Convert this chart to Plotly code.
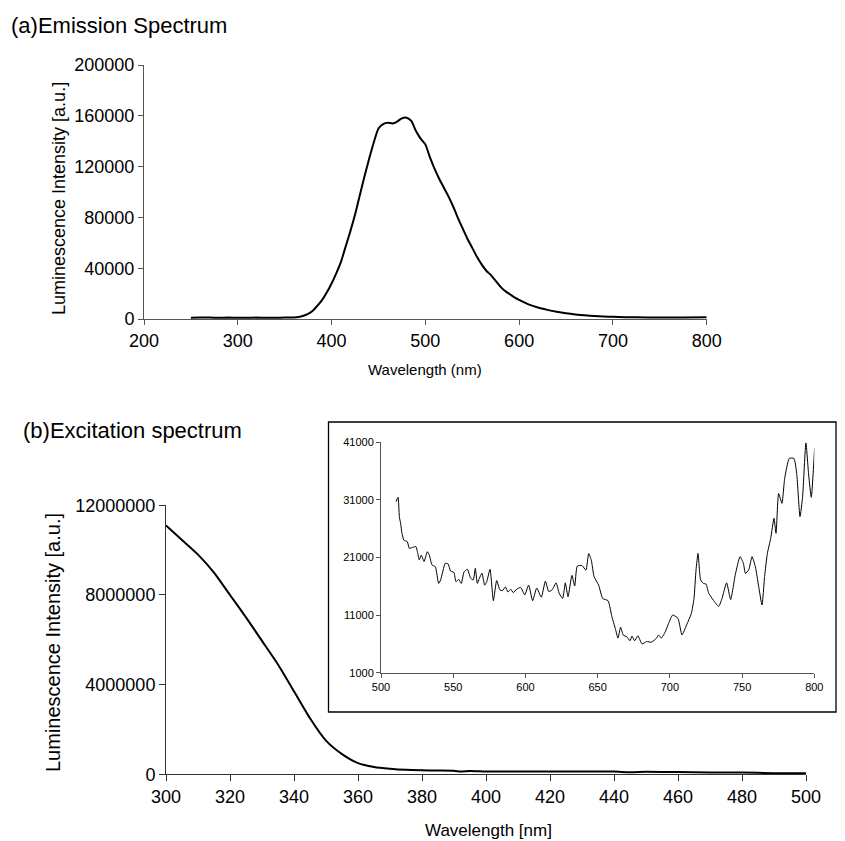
import plotly.graph_objects as go

# ---------------- data ----------------
em_wl = [250, 260, 270, 280, 290, 300, 310, 320, 330, 340, 350, 360, 365, 370, 375, 380,
         385, 390, 395, 400, 405, 410, 415, 420, 425, 430, 435, 440, 445, 450, 455, 460,
         465, 470, 475, 480, 485, 490, 495, 500, 505, 510, 515, 520, 525, 530, 535, 540,
         545, 550, 555, 560, 565, 570, 575, 580, 585, 590, 595, 600, 610, 620, 630, 640,
         650, 660, 670, 680, 690, 700, 725, 750, 775, 800]
em_val = [1000, 1100, 1100, 1000, 1100, 1000, 1000, 1100, 1000, 1000, 1100, 1200, 1500, 2500, 4000, 6500,
          10500, 15000, 21000, 28000, 36000, 45000, 57000, 69000, 82000, 97000, 112000, 126000, 139000, 150000, 153500, 154500,
          154000, 155500, 158000, 158500, 156000, 148000, 142000, 137500, 127000, 118000, 110000, 103000, 96000, 88000, 79000, 71000,
          63000, 56000, 49000, 43000, 38000, 34500, 30000, 25500, 22000, 19500, 17000, 15000, 11500, 9000, 7200, 5700,
          4500, 3600, 2900, 2400, 2000, 1700, 1300, 1200, 1200, 1300]

ex_wl = [300, 305, 310, 315, 320, 325, 330, 335, 340, 345, 350, 355, 360, 365, 370, 375,
         380, 385, 390, 392, 395, 400, 410, 420, 430, 440, 445, 450, 460, 470, 480, 490, 500]
ex_val = [11100000, 10450000, 9800000, 9000000, 8000000, 7000000, 5950000, 4900000, 3700000, 2500000,
          1500000, 900000, 500000, 330000, 250000, 200000, 180000, 170000, 160000, 120000, 150000, 130000,
          130000, 130000, 125000, 120000, 95000, 110000, 100000, 85000, 80000, 50000, 50000]

ins_wl = [510.4, 511.8, 512.7, 513.6, 514.5, 515.9, 518.2, 519.6, 522.4, 524.2, 525.2, 526.5, 527.9, 529.8,
          532.1, 533.5, 535.3, 537.6, 539.9, 541.3, 544.5, 546.4, 548.2, 550.5, 551.9, 553.8, 555.6, 557.5,
          559.8, 562.1, 563.9, 565.3, 566.7, 568.1, 569.9, 571.8, 573.2, 575.5, 577.8, 580.1, 582.4, 584.2,
          586.1, 587.9, 589.8, 591.6, 593.9, 596.7, 599.5, 602.2, 605.0, 607.8, 611.0, 613.8, 616.1, 618.4,
          621.2, 623.5, 625.8, 627.6, 629.5, 632.2, 634.1, 635.9, 639.2, 641.9, 643.8, 645.6, 647.5, 650.7,
          653.5, 657.2, 659.9, 662.2, 664.1, 665.9, 667.8, 670.1, 672.4, 673.8, 675.6, 677.9, 680.7, 683.9,
          687.2, 690.8, 692.2, 694.1, 696.8, 699.2, 701.9, 705.6, 708.4, 711.6, 714.9, 716.7, 718.1, 719.5,
          721.3, 723.2, 725.0, 726.9, 730.1, 733.8, 736.1, 739.3, 742.1, 745.3, 748.6, 750.9, 752.3, 754.6,
          756.9, 759.2, 761.5, 763.8, 765.6, 767.5, 769.8, 772.1, 773.5, 775.3, 777.6, 779.5, 782.7, 785.9,
          787.8, 790.1, 791.9, 794.2, 796.1, 797.9, 800.2]
ins_val = [30700, 31450, 28100, 26900, 25200, 24000, 23750, 22600, 22800, 22900, 22000, 20600, 21400, 20300,
           22000, 21400, 19700, 19400, 16500, 17100, 20000, 19900, 18650, 18400, 16800, 17200, 16500, 18500,
           18950, 17400, 17100, 19100, 16500, 17400, 18250, 16200, 16800, 18950, 13500, 17000, 15350, 15250,
           15900, 15000, 15500, 14900, 15500, 15800, 14500, 16200, 13500, 15700, 14100, 16900, 15100, 15350,
           16600, 14700, 13900, 16600, 14200, 17900, 16050, 19500, 19600, 18800, 21700, 20550, 17700, 16200,
           13900, 13500, 10700, 8700, 7000, 8900, 7500, 7250, 6550, 7350, 6550, 7400, 6000, 6400,
           6300, 7000, 7550, 7000, 8100, 9600, 11000, 10450, 7550, 9300, 11300, 13900, 18800, 21700,
           17100, 16500, 16400, 14800, 13600, 12500, 13900, 16600, 13700, 18000, 21150, 20000, 18250, 18850,
           21150, 19400, 15950, 12750, 17700, 21700, 24300, 27800, 25200, 32100, 30400, 34750, 38200, 38200,
           35600, 28100, 31550, 40900, 35300, 31450, 39950]

em_xticks = [200, 300, 400, 500, 600, 700, 800]
em_yticks = [0, 40000, 80000, 120000, 160000, 200000]
ex_xticks = [300, 320, 340, 360, 380, 400, 420, 440, 460, 480, 500]
ex_yticks = [0, 4000000, 8000000, 12000000]
ins_xticks = [500, 550, 600, 650, 700, 750, 800]
ins_yticks = [1000, 11000, 21000, 31000, 41000]

# ---------------- layout helpers ----------------
# the page body has an 8px default margin, so the figure starts at (8, 8) in the window
OFF = 8
W, H = 845 - OFF, 841 - OFF
def fx(p):
    return (p - OFF) / W
def fy(p):
    return 1 - (p - OFF) / H

FONT = "Liberation Sans, Arial, Helvetica, sans-serif"

fig = go.Figure()
fig.add_trace(go.Scatter(x=em_wl, y=em_val, mode="lines", line=dict(color="black", width=2, shape="spline", smoothing=0.6),
                         xaxis="x", yaxis="y", showlegend=False))
fig.add_trace(go.Scatter(x=ex_wl, y=ex_val, mode="lines", line=dict(color="black", width=2, shape="spline", smoothing=0.6),
                         xaxis="x2", yaxis="y2", showlegend=False))
fig.add_trace(go.Scatter(x=ins_wl, y=ins_val, mode="lines", line=dict(color="black", width=1, shape="spline", smoothing=0.5),
                         xaxis="x3", yaxis="y3", showlegend=False))

def ax(domain, rng, ticks, size, color, ticklen, anchor):
    return dict(domain=domain, range=rng, tickvals=ticks, ticktext=[str(t) for t in ticks],
                showgrid=False, zeroline=False, showline=True, linecolor=color, linewidth=1,
                ticks="outside", ticklen=ticklen, tickcolor=color, tickwidth=1,
                tickfont=dict(family=FONT, size=size, color="black"), anchor=anchor, fixedrange=True)

fig.update_layout(
    width=W, height=H, margin=dict(l=0, r=0, t=0, b=0, autoexpand=False),
    paper_bgcolor="white", plot_bgcolor="rgba(0,0,0,0)",
    xaxis=ax([fx(144), fx(706.7)], [200, 800], em_xticks, 18, "#555", 5, "y"),
    yaxis=ax([fy(319), fy(65)], [0, 200000], em_yticks, 18, "#555", 5, "x"),
    xaxis2=ax([fx(166), fx(806)], [300, 500], ex_xticks, 18, "#333", 6, "y2"),
    yaxis2=ax([fy(774.3), fy(505.3)], [0, 12000000], ex_yticks, 18, "#333", 6, "x2"),
    xaxis3=ax([fx(381), fx(814.3)], [500, 800], ins_xticks, 11, "#555", 4, "y3"),
    yaxis3=ax([fy(672.7), fy(442.3)], [1000, 41000], ins_yticks, 11, "#555", 4, "x3"),
    shapes=[dict(type="rect", xref="paper", yref="paper",
                 x0=fx(328.5), x1=fx(836), y0=fy(712), y1=fy(422),
                 line=dict(color="black", width=1.3), fillcolor="rgba(0,0,0,0)", layer="above")],
    annotations=[
        dict(text="(a)Emission Spectrum", xref="paper", yref="paper", x=fx(9), y=fy(25),
             xanchor="left", yanchor="middle", showarrow=False, font=dict(family=FONT, size=22, color="black")),
        dict(text="(b)Excitation spectrum", xref="paper", yref="paper", x=fx(21), y=fy(431),
             xanchor="left", yanchor="middle", showarrow=False, font=dict(family=FONT, size=22, color="black")),
        dict(text="Wavelength (nm)", xref="paper", yref="paper", x=fx(425), y=fy(370),
             xanchor="center", yanchor="middle", showarrow=False, font=dict(family=FONT, size=15, color="black")),
        dict(text="Wavelength [nm]", xref="paper", yref="paper", x=fx(488), y=fy(830),
             xanchor="center", yanchor="middle", showarrow=False, font=dict(family=FONT, size=17, color="black")),
        dict(text="Luminescence Intensity [a.u.]", xref="paper", yref="paper", x=fx(59), y=fy(199),
             xanchor="center", yanchor="middle", textangle=-90, showarrow=False,
             font=dict(family=FONT, size=18, color="black")),
        dict(text="Luminescence Intensity [a.u.]", xref="paper", yref="paper", x=fx(53), y=fy(643),
             xanchor="center", yanchor="middle", textangle=-90, showarrow=False,
             font=dict(family=FONT, size=20, color="black")),
    ],
)

fig.write_html("out.html")
